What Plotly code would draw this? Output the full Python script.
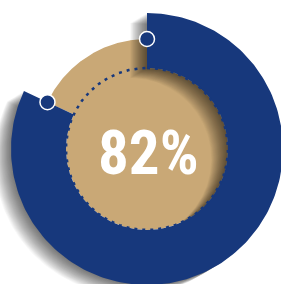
import numpy as np
import plotly.graph_objects as go

# ---- data ----
labels = ["Achieved", "Remaining"]
values = [82, 18]
center_label = "82%"

NAVY = "#17387c"
TAN = "#c9a876"

W, H = 281, 284
cx, cy = 147, 149
r_in, r_tan, r_out = 81, 110, 136

total = sum(values)
a_split = 360.0 * values[0] / total


def pt(r, deg):
    t = np.radians(deg)
    return cx + r * np.sin(t), cy - r * np.cos(t)


def ring(r0, r1, a0, a1, dx=0.0, dy=0.0, n=200):
    th = np.linspace(a0, a1, n)
    xo, yo = pt(r1, th)
    xi, yi = pt(r0, th[::-1])
    x = np.concatenate([xo, xi, xo[:1]]) + dx
    y = np.concatenate([yo, yi, yo[:1]]) + dy
    return x, y


fig = go.Figure()

# tan remainder arc
x, y = ring(r_in - 2, r_tan, a_split, 360)
fig.add_trace(go.Scatter(x=x, y=y, fill="toself", fillcolor=TAN, line=dict(width=0),
                         mode="lines", hoverinfo="skip", name=labels[1]))

# inner disc
th = np.linspace(0, 360, 361)
x, y = pt(r_in, th)
fig.add_trace(go.Scatter(x=x, y=y, fill="toself", fillcolor=TAN, line=dict(width=0),
                         mode="lines", hoverinfo="skip", showlegend=False))

# soft shadow of navy ring (cast down-left)
for k in range(1, 25):
    x, y = ring(r_in, r_out, 0, a_split, dx=-0.7 * k, dy=0.42 * k)
    fig.add_trace(go.Scatter(x=x, y=y, fill="toself", fillcolor="rgba(0,0,0,0.026)",
                             line=dict(width=0), mode="lines", hoverinfo="skip",
                             showlegend=False))

# navy value arc
x, y = ring(r_in, r_out, 0, a_split)
fig.add_trace(go.Scatter(x=x, y=y, fill="toself", fillcolor=NAVY, line=dict(width=0),
                         mode="lines", hoverinfo="skip", name=labels[0]))

# dotted inner border
x, y = pt(r_in, np.linspace(0, 360, 721))
fig.add_trace(go.Scatter(x=x, y=y, mode="lines",
                         line=dict(color=NAVY, width=2.5, dash="3px,5px"),
                         hoverinfo="skip", showlegend=False))

# end markers
mx, my = pt(r_tan, np.array([0.0, a_split]))
fig.add_trace(go.Scatter(x=mx, y=my, mode="markers",
                         marker=dict(size=15, color=NAVY, line=dict(color="white", width=1.5)),
                         hoverinfo="skip", showlegend=False))

fig.add_annotation(x=cx + 1, y=cy + 4, text=center_label, showarrow=False,
                   font=dict(family="Liberation Sans Narrow, Arial Narrow, Roboto Condensed, Liberation Sans",
                             size=61, color="white", weight="bold"),
                   xanchor="center", yanchor="middle")

fig.update_layout(
    width=W, height=H, margin=dict(l=0, r=0, t=0, b=0),
    paper_bgcolor="white", plot_bgcolor="white", showlegend=False,
    xaxis=dict(range=[0, W], visible=False, fixedrange=True),
    yaxis=dict(range=[H, 0], visible=False, fixedrange=True),
)

fig.write_html("out.html", config={"displayModeBar": False},
               post_script="document.body.style.margin='0';document.body.style.overflow='hidden';")
